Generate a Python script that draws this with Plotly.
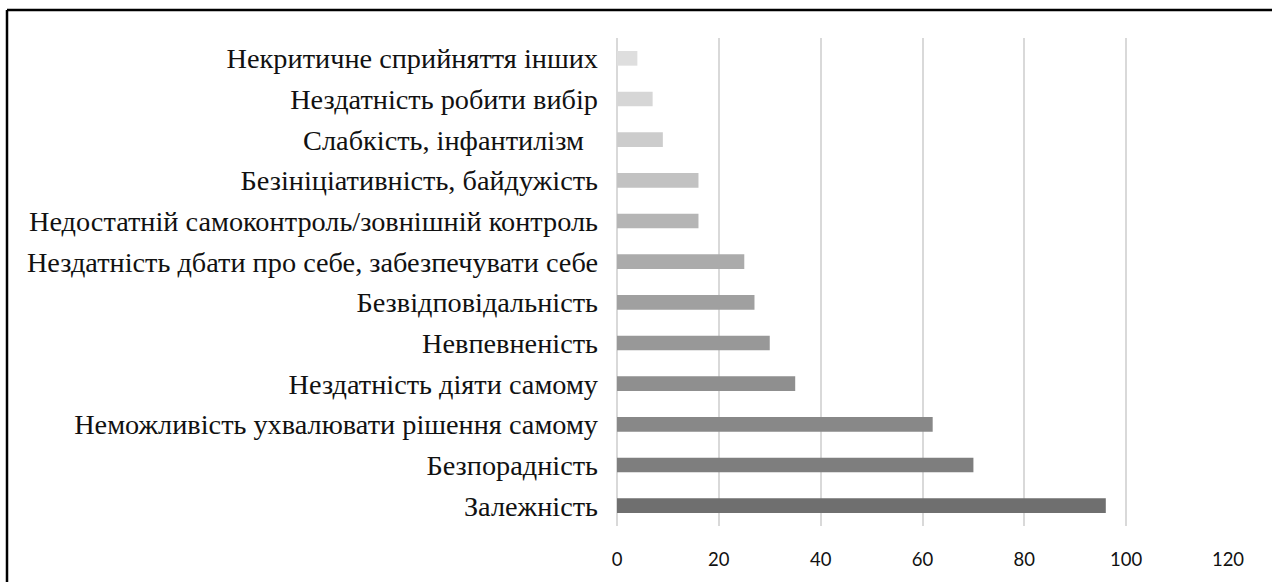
import plotly.graph_objects as go

categories = [
    "Залежність",
    "Безпорадність",
    "Неможливість ухвалювати рішення самому",
    "Нездатність діяти самому",
    "Невпевненість",
    "Безвідповідальність",
    "Нездатність дбати про себе, забезпечувати себе",
    "Недостатній самоконтроль/зовнішній контроль",
    "Безініціативність, байдужість",
    "Слабкість, інфантилізм\u2002",
    "Нездатність робити вибір",
    "Некритичне сприйняття інших",
]
values = [96, 70, 62, 35, 30, 27, 25, 16, 16, 9, 7, 4]
colors = [
    "#6f6f6f", "#7e7e7e", "#888888", "#8f8f8f", "#989898", "#a0a0a0",
    "#ababab", "#b5b5b5", "#c2c2c2", "#cccccc", "#d6d6d6", "#dedede",
]
x_ticks = [0, 20, 40, 60, 80, 100, 120]

fig = go.Figure(go.Bar(
    x=values, y=categories, orientation="h",
    marker=dict(color=colors, line=dict(width=0)),
))

L, R, T, B = 617, 44, 38, 56
W, H = 1272, 582
pw, ph = W - L - R, H - T - B

def px(x):
    return (x - L) / pw

def py(y):
    return (H - B - y) / ph

fig.update_layout(
    width=W, height=H,
    margin=dict(l=L, r=R, t=T, b=B),
    paper_bgcolor="white", plot_bgcolor="white",
    bargap=0.64,
    showlegend=False,
    xaxis=dict(
        range=[0, 120], tickvals=x_ticks, showgrid=True,
        gridcolor="#d9d9d9", gridwidth=2, zeroline=True,
        zerolinecolor="#d9d9d9", zerolinewidth=2, showline=False,
        ticks="", tickfont=dict(family="Lato", size=18.5, color="#111111"),
        ticklabelstandoff=20, fixedrange=True,
    ),
    yaxis=dict(
        showgrid=False, zeroline=False, showline=False, ticks="",
        tickfont=dict(family="Liberation Serif", size=28.3, color="#111111"),
        ticklabelstandoff=18, fixedrange=True,
    ),
    shapes=[
        dict(type="line", xref="paper", yref="paper", x0=px(7), x1=px(1280),
             y0=py(10), y1=py(10), line=dict(color="black", width=2.5)),
        dict(type="line", xref="paper", yref="paper", x0=px(7), x1=px(7),
             y0=py(10), y1=py(590), line=dict(color="black", width=2.5)),
    ],
)

fig.write_html("out.html", config={"displayModeBar": False})
